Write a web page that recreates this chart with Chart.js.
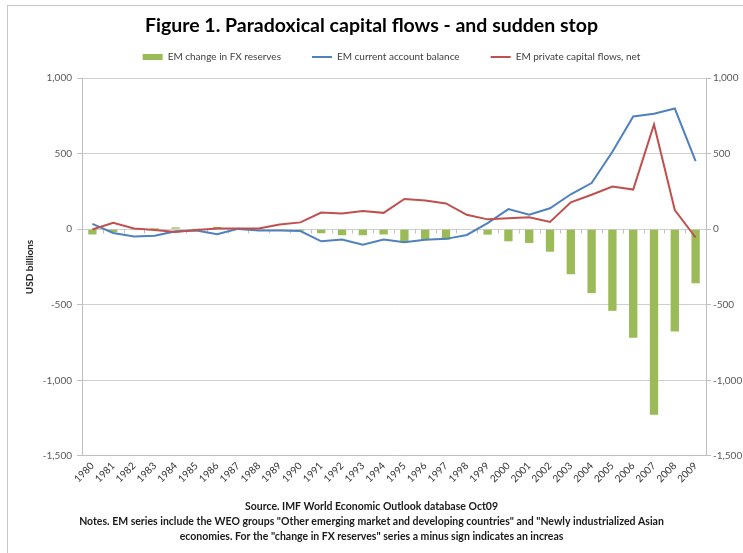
<!DOCTYPE html>
<html>
<head>
<meta charset="utf-8">
<script src="https://cdn.jsdelivr.net/npm/chart.js@4/dist/chart.umd.min.js"></script>
<style>
html,body{margin:0;padding:0;background:#fff;overflow:hidden;}
#wrap{position:relative;width:743px;height:553px;}
#frame{position:absolute;left:7px;top:5px;width:740px;height:560px;border:1px solid #c6c6c6;pointer-events:none;box-sizing:border-box;}
canvas{position:absolute;left:0;top:0;}
</style>
</head>
<body>
<div id="wrap"><canvas id="c" width="743" height="553"></canvas><div id="frame"></div></div>
<script>
const years = ['1980','1981','1982','1983','1984','1985','1986','1987','1988','1989',
               '1990','1991','1992','1993','1994','1995','1996','1997','1998','1999',
               '2000','2001','2002','2003','2004','2005','2006','2007','2008','2009'];

const fxReserves = [-35,-20,-5,8,12,5,15,5,-3,-5,
                    -10,-27,-40,-40,-35,-85,-70,-70,3,-36,
                    -80,-91,-149,-298,-423,-540,-718,-1228,-677,-358];

const currentAccount = [35,-25,-48,-44,-14,-9,-33,2,-8,-9,
                        -12,-80,-68,-103,-68,-87,-70,-64,-38,40,
                        133,96,138,231,305,512,745,763,798,450];

const privateFlows = [-2,42,5,-6,-18,-5,4,4,5,31,
                      45,110,103,120,108,200,190,170,95,65,
                      73,79,48,178,228,282,262,692,127,-55];

const seriesNames = ['EM change in FX reserves','EM current account balance','EM private capital flows, net'];

const yTickValues = [-1500,-1000,-500,0,500,1000];
const yTickLabels = ['-1,500','-1,000','-500','0','500','1,000'];

const titleText = 'Figure 1. Paradoxical capital flows - and sudden stop';
const footerLines = [
  'Source. IMF World Economic Outlook database Oct09',
  'Notes. EM series include the WEO groups "Other emerging market and developing countries" and "Newly industrialized Asian',
  'economies. For the "change in FX reserves" series a minus sign indicates an increas'
];
const yAxisTitle = 'USD billions';

const FONT = "Lato, 'Open Sans', sans-serif";
const LEGEND_DX = 20, LEGEND_DY = -6;

const zeroAxisTicks = {
  id: 'zeroAxisTicks',
  beforeDatasetsDraw(chart) {
    const xs = chart.scales.x, ys = chart.scales.y;
    const y0 = Math.round(ys.getPixelForValue(0)) + 0.5;
    const ctx = chart.ctx;
    ctx.save();
    ctx.strokeStyle = '#bfbfbf';
    ctx.lineWidth = 1;
    ctx.beginPath();
    for (let i = 0; i <= years.length; i++) {
      const x = Math.round(xs.getPixelForValue(i - 0.5)) + 0.5;
      ctx.moveTo(x, y0);
      ctx.lineTo(x, y0 + 4);
    }
    ctx.stroke();
    ctx.restore();
  }
};

const legendNudge = {
  id: 'legendNudge',
  afterLayout(chart) {
    const lg = chart.legend;
    if (!lg) return;
    lg.left += LEGEND_DX; lg.right += LEGEND_DX;
    lg.top += LEGEND_DY; lg.bottom += LEGEND_DY;
  }
};

const yTickCallback = v => {
  const i = yTickValues.indexOf(v);
  return i >= 0 ? yTickLabels[i] : '';
};

new Chart(document.getElementById('c'), {
  data: {
    labels: years,
    datasets: [
      {
        type: 'bar', label: seriesNames[0], data: fxReserves,
        backgroundColor: '#9bbb59', borderWidth: 0,
        barPercentage: 0.4, categoryPercentage: 1.0,
        pointStyle: 'rect', order: 3, xAxisID: 'x', yAxisID: 'y'
      },
      {
        type: 'line', label: seriesNames[1], data: currentAccount,
        borderColor: '#4f81bd', backgroundColor: '#4f81bd', borderWidth: 2,
        pointRadius: 0, pointStyle: 'line', tension: 0, fill: false,
        order: 2, xAxisID: 'x', yAxisID: 'y'
      },
      {
        type: 'line', label: seriesNames[2], data: privateFlows,
        borderColor: '#c0504d', backgroundColor: '#c0504d', borderWidth: 2,
        pointRadius: 0, pointStyle: 'line', tension: 0, fill: false,
        order: 1, xAxisID: 'x', yAxisID: 'y'
      }
    ]
  },
  options: {
    responsive: false,
    animation: false,
    devicePixelRatio: 1,
    layout: { padding: { top: 11, left: 0, right: 0, bottom: 9 } },
    plugins: {
      tooltip: { enabled: false },
      title: {
        display: true, text: titleText, color: '#000',
        font: { family: FONT, size: 19.5, weight: 'bold', lineHeight: '2px' },
        padding: { top: 14, bottom: 0 }
      },
      subtitle: {
        display: true, position: 'bottom', text: footerLines, color: '#1a1a1a',
        font: { family: FONT, size: 10.5, weight: 'bold', lineHeight: 1.43 },
        padding: { top: 0, bottom: 0 }
      },
      legend: {
        display: true, position: 'top',
        labels: {
          usePointStyle: true, pointStyleWidth: 20, boxHeight: 6,
          padding: 31, color: '#404040',
          font: { family: FONT, size: 10 },
          sort: (a, b) => a.datasetIndex - b.datasetIndex
        }
      }
    },
    scales: {
      x: {
        type: 'category', position: 'bottom', offset: true,
        grid: { display: false, drawTicks: false },
        border: { display: true, color: '#bfbfbf' },
        ticks: {
          autoSkip: false, minRotation: 45, maxRotation: 45, padding: 4,
          color: '#333', font: { family: FONT, size: 10 }
        },
        afterFit: s => { s.height = 43; }
      },
      y: {
        type: 'linear', position: 'left', min: -1500, max: 1000,
        afterBuildTicks: s => { s.ticks = yTickValues.map(v => ({ value: v })); },
        grid: { color: '#d0d0d0', tickColor: '#bfbfbf', drawTicks: true, tickLength: 5 },
        border: { display: true, color: '#bfbfbf' },
        ticks: { padding: 5, color: '#595959', font: { family: FONT, size: 10 }, callback: yTickCallback },
        title: {
          display: true, text: yAxisTitle, color: '#262626',
          font: { family: FONT, size: 10, weight: 'bold' },
          padding: { top: 24, bottom: 0 }
        },
        afterFit: s => { s.width = 82; }
      },
      y2: {
        type: 'linear', position: 'right', min: -1500, max: 1000,
        afterBuildTicks: s => { s.ticks = yTickValues.map(v => ({ value: v })); },
        grid: { drawOnChartArea: false, tickColor: '#bfbfbf', drawTicks: true, tickLength: 5 },
        border: { display: true, color: '#bfbfbf' },
        ticks: { padding: 2, color: '#595959', font: { family: FONT, size: 10 }, callback: yTickCallback },
        afterFit: s => { s.width = 37; }
      }
    }
  },
  plugins: [zeroAxisTicks, legendNudge]
});
</script>
</body>
</html>
